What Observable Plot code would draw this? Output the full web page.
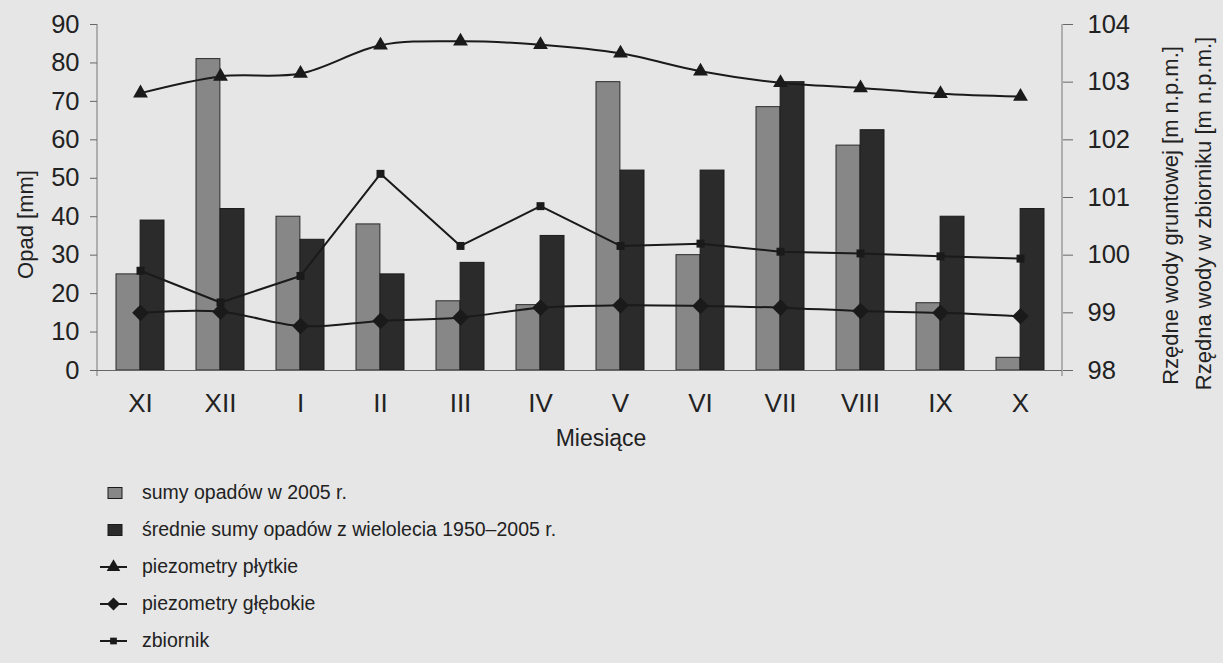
<!DOCTYPE html>
<html>
<head>
<meta charset="utf-8">
<script src="https://cdn.jsdelivr.net/npm/d3@7"></script>
<script src="https://cdn.jsdelivr.net/npm/@observablehq/plot@0.6"></script>
<style>
  html, body { margin: 0; padding: 0; background: #e6e6e6; }
  body { width: 1223px; height: 663px; position: relative; overflow: hidden; font-family: "Liberation Sans", Arial, sans-serif; color: #222; }
  #chart { position: absolute; left: 0; top: 0; }
  #legend { position: absolute; left: 98px; top: 474px; }
  .row { height: 37px; display: flex; align-items: center; font-size: 19.5px; }
  .row svg { width: 34px; height: 20px; margin-right: 10px; }
</style>
</head>
<body>
<div id="chart"></div>
<div id="legend"></div>
<script>
// ---- data ----
const months = ["XI", "XII", "I", "II", "III", "IV", "V", "VI", "VII", "VIII", "IX", "X"];
const opad2005 = [25, 81, 40, 38, 18, 17, 75, 30, 68.5, 58.5, 17.5, 3.3];
const opadMean = [39, 42, 34, 25, 28, 35, 52, 52, 75, 62.5, 40, 42];
const plytkie  = [102.81, 103.10, 103.15, 103.64, 103.71, 103.65, 103.50, 103.19, 102.99, 102.90, 102.80, 102.75];
const glebokie = [99.00, 99.02, 98.77, 98.86, 98.92, 99.09, 99.13, 99.12, 99.09, 99.03, 99.00, 98.94];
const zbiornik = [99.73, 99.18, 99.64, 101.41, 100.16, 100.85, 100.16, 100.20, 100.06, 100.03, 99.98, 99.94];
const leftTicks = [0, 10, 20, 30, 40, 50, 60, 70, 80, 90];
const rightTicks = [98, 99, 100, 101, 102, 103, 104];
const legendLabels = [
  "sumy opadów w 2005 r.",
  "średnie sumy opadów z wielolecia 1950–2005 r.",
  "piezometry płytkie",
  "piezometry głębokie",
  "zbiornik"
];

// right axis (98–104 m) mapped onto left axis (0–90 mm)
const R0 = rightTicks[0], R1 = rightTicks[rightTicks.length - 1];
const L1 = leftTicks[leftTicks.length - 1];
const toLeft = v => (v - R0) * L1 / (R1 - R0);

const rows = months.map((m, i) => ({
  month: m, a: opad2005[i], b: opadMean[i],
  p: toLeft(plytkie[i]), g: toLeft(glebokie[i]), z: toLeft(zbiornik[i])
}));

const W = 1223, H = 460, mL = 97, mR = 161, mT = 24, mB = 90;
const half = ((W - mL - mR) / months.length) * 0.6 / 2;
const ink = "#1a1a1a";

const sideLines = (index, scales, values, dims) => {
  const g = d3.create("svg:g");
  const x0 = dims.marginLeft, x1 = dims.width - dims.marginRight;
  const y0 = dims.marginTop, y1 = dims.height - dims.marginBottom;
  g.append("line").attr("x1", x0).attr("x2", x0).attr("y1", y0).attr("y2", y1 + 6).attr("stroke", "#777");
  g.append("line").attr("x1", x1).attr("x2", x1).attr("y1", y0).attr("y2", y1 + 6).attr("stroke", "#777");
  return g.node();
};

const chart = Plot.plot({
  width: W, height: H,
  marginLeft: mL, marginRight: mR, marginTop: mT, marginBottom: mB,
  style: { background: "transparent", fontFamily: "Liberation Sans, Arial, sans-serif", color: "#222" },
  x: { type: "band", domain: months, paddingInner: 0.4, paddingOuter: 0.2, label: null },
  y: { domain: [0, L1], label: null },
  marks: [
    Plot.barY(rows, { x: "month", y: "a", fill: "#878787", stroke: "#2a2a2a", strokeWidth: 1, insetRight: half }),
    Plot.barY(rows, { x: "month", y: "b", fill: "#2b2b2b", stroke: "#1a1a1a", strokeWidth: 1, insetLeft: half }),
    Plot.ruleY([0], { stroke: "#666", strokeWidth: 1.2 }),
    sideLines,
    Plot.line(rows, { x: "month", y: "p", stroke: ink, strokeWidth: 2, curve: "catmull-rom" }),
    Plot.line(rows, { x: "month", y: "g", stroke: ink, strokeWidth: 2, curve: "catmull-rom" }),
    Plot.line(rows, { x: "month", y: "z", stroke: ink, strokeWidth: 2 }),
    Plot.dot(rows, { x: "month", y: "p", symbol: "triangle", r: 5.5, fill: ink, stroke: "none" }),
    Plot.dot(rows, { x: "month", y: "g", symbol: "diamond2", r: 7.5, fill: ink, stroke: "none" }),
    Plot.dot(rows, { x: "month", y: "z", symbol: "square", r: 4.5, fill: ink, stroke: "none" }),
    Plot.axisY({ anchor: "left", ticks: leftTicks, tickSize: 7, tickPadding: 11, fontSize: 25.5, label: null, stroke: "#666" }),
    Plot.axisY({ anchor: "right", ticks: rightTicks.map(toLeft), tickFormat: d => String(Math.round(R0 + d * (R1 - R0) / L1)),
                 tickSize: 10, tickPadding: 15, fontSize: 25.5, label: null, stroke: "#666" }),
    Plot.axisX({ anchor: "bottom", tickSize: 0, tickPadding: 23, fontSize: 26, label: null }),
    Plot.text(["Miesiące"], { frameAnchor: "bottom", textAnchor: "middle", dy: 75, dx: 21, fontSize: 23, fill: "#222" }),
    Plot.text(["Opad [mm]"], { frameAnchor: "left", textAnchor: "middle", rotate: -90, dx: -72, dy: 27, fontSize: 22, fill: "#222" }),
    Plot.text(["Rzędne wody gruntowej [m n.p.m.]"], { frameAnchor: "right", textAnchor: "middle", rotate: -90, dx: 108, dy: 18, fontSize: 22, fill: "#222" }),
    Plot.text(["Rzędna wody w zbiorniku [m n.p.m.]"], { frameAnchor: "right", textAnchor: "middle", rotate: -90, dx: 141, dy: 16, fontSize: 22, fill: "#222" })
  ]
});
document.getElementById("chart").appendChild(chart);

// ---- legend ----
const legend = d3.select("#legend");
const symbols = [null, null, d3.symbolTriangle, d3.symbolDiamond2, d3.symbolSquare];
const symSize = [0, 0, 80, 110, 45];
legendLabels.forEach((label, i) => {
  const row = legend.append("div").attr("class", "row");
  const s = row.append("svg").attr("viewBox", "0 0 34 20");
  if (i < 2) {
    s.append("rect").attr("x", 10).attr("y", 4.5).attr("width", 14).attr("height", 11)
      .attr("fill", i === 0 ? "#878787" : "#2b2b2b").attr("stroke", "#1a1a1a");
  } else {
    s.append("line").attr("x1", 2).attr("x2", 29).attr("y1", 10).attr("y2", 10).attr("stroke", ink).attr("stroke-width", 2);
    s.append("path").attr("d", d3.symbol(symbols[i], symSize[i])()).attr("transform", "translate(15.5,10)").attr("fill", ink);
  }
  row.append("span").text(label);
});
</script>
</body>
</html>
